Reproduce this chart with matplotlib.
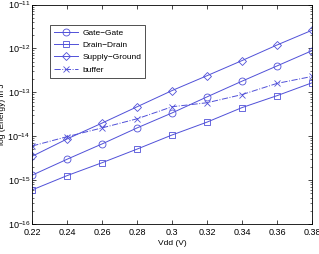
import matplotlib

matplotlib.use("Agg")
import matplotlib.pyplot as plt
from matplotlib.ticker import LogLocator, NullFormatter


plt.rcParams.update({
    "font.family": ["Liberation Sans", "DejaVu Sans"],
    "font.size": 6.5,
    "mathtext.default": "regular",
    "xtick.direction": "in",
    "ytick.direction": "in",
    "xtick.top": True,
    "ytick.right": True,
    "axes.linewidth": 0.6,
})

vdd = [0.22, 0.24, 0.26, 0.28, 0.30, 0.32, 0.34, 0.36, 0.38]
gate_gate = [1.3e-15, 3.0e-15, 6.7e-15, 1.55e-14, 3.4e-14, 7.9e-14, 1.8e-13, 4.0e-13, 8.9e-13]
drain_drain = [6.0e-16, 1.27e-15, 2.5e-15, 5.1e-15, 1.07e-14, 2.1e-14, 4.5e-14, 8.4e-14, 1.65e-13]
supply_ground = [3.5e-15, 8.7e-15, 2.0e-14, 4.7e-14, 1.1e-13, 2.4e-13, 5.3e-13, 1.2e-12, 2.6e-12]
buffer = [6.0e-15, 9.8e-15, 1.55e-14, 2.5e-14, 4.7e-14, 5.8e-14, 8.9e-14, 1.6e-13, 2.3e-13]

COLOR = "#5050d8"

fig = plt.figure(figsize=(3.19, 2.54), dpi=100)
ax = fig.add_axes([0.101, 0.118, 0.877, 0.864])

style = dict(color=COLOR, linewidth=0.7, markersize=5, markerfacecolor="none",
             markeredgewidth=0.6)
ax.semilogy(vdd, gate_gate, marker="o", linestyle="-", label="Gate\u2212Gate", **style)
ax.semilogy(vdd, drain_drain, marker="s", linestyle="-", label="Drain\u2212Drain", **style)
ax.semilogy(vdd, supply_ground, marker="D", linestyle="-", label="Supply\u2212Ground",
            **{**style, "markersize": 4.5})
ax.semilogy(vdd, buffer, marker="x", linestyle="-.", label="buffer", **style)

ax.set_xlim(0.22, 0.38)
ax.set_ylim(1e-16, 1e-11)
ax.set_xticks(vdd)
ax.set_xticklabels([f"{v:g}" for v in vdd])
ax.yaxis.set_major_locator(LogLocator(base=10, numticks=10))
ax.yaxis.set_minor_locator(LogLocator(base=10, subs=range(2, 10), numticks=10))
ax.yaxis.set_minor_formatter(NullFormatter())
ax.tick_params(which="major", length=3, width=0.5, pad=2.5)
ax.tick_params(axis="y", which="major", pad=1.5)
ax.tick_params(which="minor", length=1.5, width=0.4)

ax.set_xlabel("Vdd (V)", fontsize=6)
ax.set_ylabel("log (Energy) in J", fontsize=6)
ax.xaxis.set_label_coords(0.5, -0.072)
ax.yaxis.set_label_coords(-0.094, 0.5)

leg = ax.legend(loc="upper left", bbox_to_anchor=(0.064, 0.907), fontsize=6,
                fancybox=False, framealpha=1, edgecolor="#333333",
                handlelength=2.9, handletextpad=0.5, borderpad=0.45,
                labelspacing=0.55, borderaxespad=0)
leg.get_frame().set_linewidth(0.6)

fig.savefig("out.png", dpi=100)
